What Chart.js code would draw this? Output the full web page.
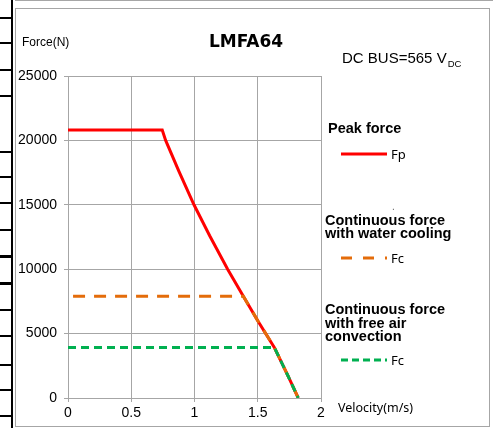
<!DOCTYPE html>
<html>
<head>
<meta charset="utf-8">
<script src="https://cdn.jsdelivr.net/npm/chart.js@4.4.1/dist/chart.umd.min.js"></script>
<style>
  html, body { margin: 0; padding: 0; background: #fff; }
  #wrap { position: relative; width: 493px; height: 428px; overflow: hidden; }
  .rule { position: absolute; background: #000; }
  #frame { position: absolute; left: 15px; top: 8px; width: 473px; height: 417px; border: 1px solid #a6a6a6; }
  #topline { position: absolute; left: 15px; top: 0; width: 478px; height: 1px; background: #a6a6a6; }
  canvas { position: absolute; left: 0; top: 0; }
</style>
</head>
<body>
<div id="wrap">
  <div id="topline"></div>
  <div id="frame"></div>
  <div class="rule" style="left:11px;top:0;width:2px;height:428px"></div>
  <canvas id="grafico" width="493" height="428"></canvas>
</div>
<script>
// velocity (m/s) / force (N)
const peakVel = [0, 0.745, 0.772, 0.877, 0.996, 1.12, 1.262, 1.386, 1.5, 1.631, 1.742, 1.82];
const peakForce = [20800, 20800, 20000, 17600, 15000, 12600, 10000, 7900, 6000, 3930, 1660, 0];
const waterVel = [0.04, 1.386, 1.5, 1.631, 1.742, 1.82];
const waterForce = [7900, 7900, 6000, 3930, 1660, 0];
const airVel = [0, 1.631, 1.742, 1.82];
const airForce = [3930, 3930, 1660, 0];
const xTicks = [0, 0.5, 1, 1.5, 2];
const yTicks = [0, 5000, 10000, 15000, 20000, 25000];

// table rule stubs on the left edge of the page
const stubs = [18, 43, 70, 96, 152, 177, 203, 230, 256, 283, 310, 336, 365, 390, 416];
const wrap = document.getElementById("wrap");
stubs.forEach(function (y) {
    const d = document.createElement("div");
    d.className = "rule";
    const thick = (y === 256 || y === 283) ? 3 : 2;
    d.style.cssText = "left:0;top:" + (y - 1) + "px;width:12px;height:" + thick + "px";
    wrap.appendChild(d);
});

function pts(xs, ys) {
    return xs.map(function (x, i) { return { x: x, y: ys[i] }; });
}

const gray = "#a6a6a6";
const tickFont = { family: "'Liberation Sans', Arial", size: 14 };

const textos = {
    id: "textos",
    afterDraw(chart) {
        const c = chart.ctx;
        c.save();
        c.fillStyle = "#000";
        c.textAlign = "center";
        c.textBaseline = "alphabetic";
        c.font = "bold 17px 'DejaVu Sans'";
        c.fillText("LMFA64", 246, 47);

        c.textAlign = "left";
        c.font = "12px 'Liberation Sans'";
        c.fillText("Force(N)", 22, 46);

        c.font = "15px 'Liberation Sans'";
        const dc = "DC BUS=565 V";
        c.fillText(dc, 342, 63);
        const w = c.measureText(dc).width;
        c.font = "9.5px 'Liberation Sans'";
        c.fillText("DC", 342 + w + 1, 67);

        c.font = "bold 14.5px 'Liberation Sans'";
        c.fillText("Peak force", 328, 133);
        c.fillText("Continuous force", 325, 225);
        c.fillText("with water cooling", 325, 238);
        c.fillText("Continuous force", 325, 314);
        c.fillText("with free air", 325, 328);
        c.fillText("convection", 325, 341);

        c.font = "10px 'Liberation Sans'";
        c.fillStyle = "#666";
        c.fillText(".", 392, 210);

        c.fillStyle = "#000";
        c.font = "13px 'Noto Sans'";
        c.textBaseline = "middle";
        c.fillText("Fp", 391, 155);
        c.fillText("Fc", 391, 259);
        c.fillText("Fc", 391, 361);
        c.font = "12.5px 'Noto Sans'";
        c.fillText("Velocity(m/s)", 338, 408);

        const amostra = [
            { y: 154, cor: "#ff0000", dash: [] },
            { y: 258, cor: "#e46c0a", dash: [11, 11] },
            { y: 360, cor: "#00b050", dash: [7, 4] },
        ];
        c.lineWidth = 3;
        amostra.forEach(function (a) {
            c.beginPath();
            c.setLineDash(a.dash);
            c.strokeStyle = a.cor;
            c.moveTo(341, a.y);
            c.lineTo(387, a.y);
            c.stroke();
        });
        c.restore();
    },
};

new Chart(document.getElementById("grafico").getContext("2d"), {
    type: "line",
    data: {
        datasets: [
            {
                label: "Fp",
                data: pts(peakVel, peakForce),
                borderColor: "#ff0000",
                borderWidth: 3,
                order: 3,
            },
            {
                label: "Fc water",
                data: pts(waterVel, waterForce),
                borderColor: "#e46c0a",
                borderWidth: 3,
                borderDash: [12, 9],
                order: 2,
            },
            {
                label: "Fc air",
                data: pts(airVel, airForce),
                borderColor: "#00b050",
                borderWidth: 3,
                borderDash: [8, 5],
                order: 1,
            },
        ],
    },
    options: {
        responsive: false,
        animation: false,
        pointRadius: 0,
        tension: 0,
        layout: { padding: { left: 0, right: 172, top: 76, bottom: 0 } },
        plugins: {
            legend: { display: false },
            title: { display: false },
            tooltip: { enabled: false },
        },
        scales: {
            x: {
                type: "linear",
                min: 0,
                max: 2,
                afterBuildTicks: function (s) { s.ticks = xTicks.map(function (v) { return { value: v }; }); },
                afterFit: function (s) { s.height = 30; },
                ticks: { font: tickFont, color: "#000", padding: 3, maxRotation: 0, callback: function (v) { return String(v); } },
                grid: { color: gray, tickLength: 4 },
                border: { color: gray },
            },
            y: {
                min: 0,
                max: 25000,
                afterBuildTicks: function (s) { s.ticks = yTicks.map(function (v) { return { value: v }; }); },
                afterFit: function (s) { s.width = 68; },
                ticks: { font: tickFont, color: "#000", padding: 7, callback: function (v) { return String(v); } },
                grid: { color: gray, tickLength: 4 },
                border: { color: gray },
            },
        },
    },
    plugins: [textos],
});
</script>
</body>
</html>
